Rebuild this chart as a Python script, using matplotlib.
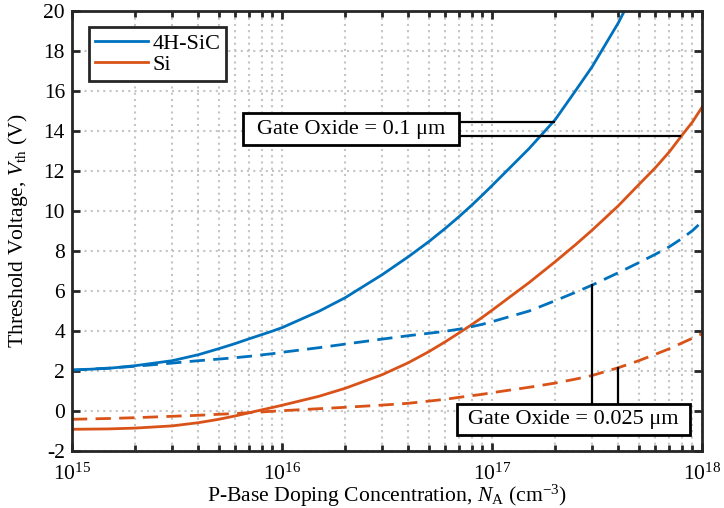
"""Threshold voltage vs. P-base doping for 4H-SiC and Si MOSFETs."""

import matplotlib.pyplot as plt
import numpy as np
from matplotlib.patches import Rectangle

plt.rcParams["font.family"] = ["Liberation Serif", "DejaVu Serif"]
plt.rcParams["mathtext.fontset"] = "custom"
plt.rcParams["mathtext.rm"] = "Liberation Serif"
plt.rcParams["mathtext.it"] = "Liberation Serif:italic"
plt.rcParams["axes.unicode_minus"] = False

# P-base doping concentration (cm^-3)
doping = [1e15, 1.5e15, 2e15, 3e15, 4e15, 5e15, 6e15, 7e15, 8e15, 9e15,
          1e16, 1.5e16, 2e16, 3e16, 4e16, 5e16, 6e16, 7e16, 8e16, 9e16,
          1e17, 1.5e17, 2e17, 2.5e17, 3e17, 4e17, 5e17, 6e17, 7e17, 8e17,
          9e17, 1e18]

# Threshold voltage (V), gate oxide = 0.1 um
sic_thick = [2.03, 2.12, 2.25, 2.5, 2.8, 3.1, 3.36, 3.6, 3.8, 3.98,
             4.15, 4.97, 5.65, 6.8, 7.7, 8.45, 9.12, 9.72, 10.27, 10.78,
             11.25, 13.1, 14.55, 16.0, 17.2, 19.4, 21.4, np.nan, np.nan, np.nan,
             np.nan, np.nan]
si_thick = [-0.93, -0.91, -0.87, -0.76, -0.6, -0.43, -0.26, -0.1, 0.04, 0.16,
            0.27, 0.72, 1.12, 1.8, 2.4, 2.95, 3.45, 3.9, 4.3, 4.67,
            5.02, 6.4, 7.45, 8.3, 9.03, 10.25, 11.3, 12.15, 12.95, 13.75,
            14.43, 15.17]

# Threshold voltage (V), gate oxide = 0.025 um
sic_thin = [2.03, 2.13, 2.22, 2.38, 2.5, 2.58, 2.65, 2.72, 2.79, 2.85,
            2.92, 3.15, 3.33, 3.58, 3.75, 3.87, 3.97, 4.08, 4.2, 4.32,
            4.45, 4.98, 5.5, 5.92, 6.28, 6.9, 7.4, 7.82, 8.2, 8.6,
            9.0, 9.45]
si_thin = [-0.43, -0.39, -0.35, -0.28, -0.23, -0.18, -0.14, -0.1, -0.06, -0.03,
           0.0, 0.1, 0.17, 0.28, 0.37, 0.48, 0.57, 0.67, 0.75, 0.82,
           0.9, 1.17, 1.38, 1.58, 1.76, 2.15, 2.5, 2.82, 3.1, 3.38,
           3.62, 3.85]

SIC_COLOR = "#0072BD"
SI_COLOR = "#D95319"
AXIS_COLOR = "#262626"
TICK_SIZE = 15.5
TEXT_SIZE = 16
LABEL_SIZE = 15.6

figure = plt.figure(figsize=(7.24, 5.08), dpi=100)
axis = figure.add_axes([0.0994, 0.1128, 0.8702, 0.8662])

axis.plot(doping, sic_thick, color=SIC_COLOR, linewidth=2, label="4H-SiC")
axis.plot(doping, si_thick, color=SI_COLOR, linewidth=2, label="Si")
axis.plot(doping, sic_thin, color=SIC_COLOR, linewidth=2, dashes=(5.5, 3))
axis.plot(doping, si_thin, color=SI_COLOR, linewidth=2, dashes=(5.5, 3))

axis.set_xscale("log")
axis.set_xlim(1e15, 1e18)
axis.set_ylim(-2, 20)
axis.set_yticks(np.arange(-2, 21, 2))
axis.set_xlabel(r"P-Base Doping Concentration, $N_\mathrm{A}$ (cm$^{-3}$)",
                fontsize=LABEL_SIZE)
axis.set_ylabel(r"Threshold Voltage, $V_\mathrm{th}$ (V)", fontsize=LABEL_SIZE)
axis.xaxis.set_label_coords(0.5, -0.073)
axis.yaxis.set_label_coords(-0.066, 0.5)

axis.grid(which="major", color="#c4c4c4", linestyle=(0, (1, 2)), linewidth=1.5)
axis.grid(which="minor", axis="x", color="#c4c4c4", linestyle=(0, (1, 2)),
          linewidth=1.5)
axis.tick_params(which="both", direction="in", top=True, right=True,
                 labelsize=TICK_SIZE, width=2, color=AXIS_COLOR)
axis.tick_params(which="major", length=6, pad=5)
axis.tick_params(axis="x", which="major", pad=9)
axis.tick_params(which="minor", length=4)
for spine in axis.spines.values():
    spine.set_linewidth(2)
    spine.set_color(AXIS_COLOR)

legend = axis.legend(loc="upper left", bbox_to_anchor=(0.027, 0.962),
                     borderaxespad=0, fontsize=TEXT_SIZE, fancybox=False,
                     framealpha=1, edgecolor=AXIS_COLOR, handlelength=2.4,
                     handletextpad=0.2, borderpad=0.25, labelspacing=0.05)
legend.get_frame().set_linewidth(2)


def add_label_box(x0, y0, x1, y1, text):
    """Draw a white framed text box given in axes fractions."""
    axis.add_patch(Rectangle((x0, y0), x1 - x0, y1 - y0,
                             transform=axis.transAxes, facecolor="white",
                             edgecolor="black", linewidth=2, zorder=4))
    axis.text((x0 + x1) / 2, (y0 + y1) / 2, text, fontsize=TEXT_SIZE,
              ha="center", va="center", transform=axis.transAxes, zorder=5)


# Gate oxide = 0.1 um annotation
axis.plot([6.98e16, 1.97e17], [14.45, 14.45], color="black", linewidth=1.6, zorder=3)
axis.plot([6.98e16, 7.86e17], [13.75, 13.75], color="black", linewidth=1.6, zorder=3)
add_label_box(0.271, 0.6948, 0.6148, 0.7668, "Gate Oxide = 0.1 μm")

# Gate oxide = 0.025 um annotation
axis.plot([3e17, 3e17], [0.33, 6.28], color="black", linewidth=1.6, zorder=3)
axis.plot([4e17, 4e17], [0.33, 2.15], color="black", linewidth=1.6, zorder=3)
add_label_box(0.6106, 0.0357, 0.981, 0.1061, "Gate Oxide = 0.025 μm")

figure.savefig("out.png", dpi=100)
